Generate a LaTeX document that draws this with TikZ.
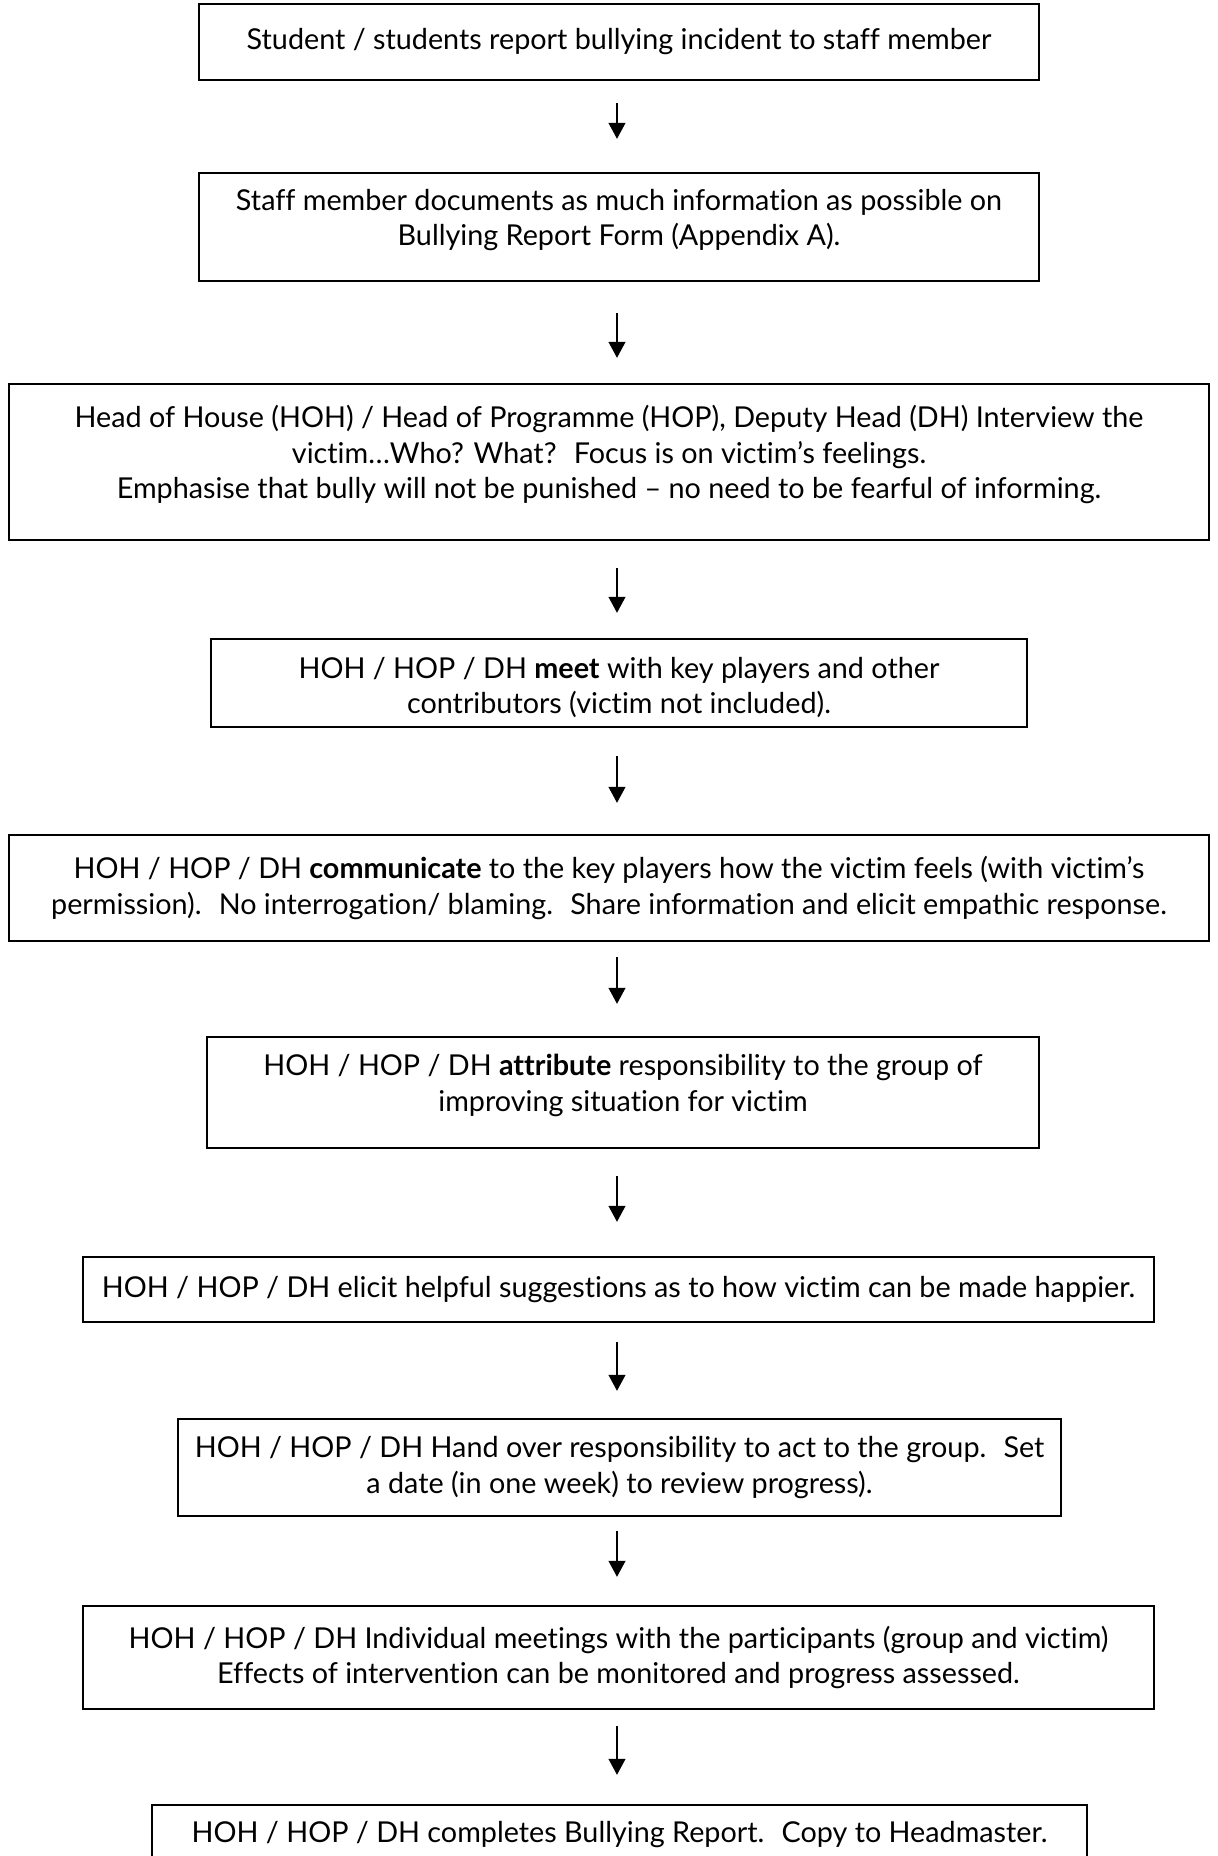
\documentclass[tikz,border=0pt]{standalone}
\usepackage{fontspec}
\setmainfont{Lato}[Ligatures=NoCommon]
\usetikzlibrary{arrows.meta}
\newcommand\lowpad{\rule[-7.8pt]{0pt}{1pt}}
\newcommand\toppad{\rule{0pt}{12pt}}

\begin{document}
\begin{tikzpicture}[x=0.4pt, y=-0.4pt,
    every node/.style={draw, line width=0.9pt, inner sep=0pt, align=center,
      font=\fontsize{11.5}{14.2}\selectfont},
    step arrow/.style={line width=1pt, -{Triangle[width=6.6pt, length=6.4pt]}}]
                \useasboundingbox (0,0) rectangle (1218,1856);
                \coordinate (ax) at (617,0);
                \node[minimum width=336pt, minimum height=30.4pt] (n1) at (619,42)
                    {Student / students report bullying incident to staff member};
                \node[minimum width=336pt, minimum height=43.2pt] (n2) at (619,227)
                    {Staff member documents as much information as possible on\\
                     Bullying Report Form (Appendix A).\lowpad};
                \node[minimum width=480pt, minimum height=62.4pt] (n3) at (609,462)
                    {Head of House (HOH) / Head of Programme (HOP), Deputy Head (DH) Interview the\\
                     victim…Who? What?~ Focus is on victim’s feelings.\\
                     Emphasise that bully will not be punished – no need to be fearful of informing.\lowpad};
                \node[minimum width=326.4pt, minimum height=35.2pt] (n4) at (619,683)
                    {\toppad HOH / HOP / DH \textbf{meet} with key players and other\\
                     contributors (victim not included).};
                \node[minimum width=480pt, minimum height=42.4pt] (n5) at (609,888)
                    {HOH / HOP / DH \textbf{communicate} to the key players how the victim feels (with victim’s\\
                     permission).~ No interrogation/ blaming.~ Share information and elicit empathic response.};
                \node[minimum width=332.8pt, minimum height=44.4pt] (n6) at (623,1092.5)
                    {HOH / HOP / DH \textbf{attribute} responsibility to the group of\\
                     improving situation for victim\lowpad};
                \node[minimum width=428.4pt, minimum height=26pt] (n7) at (618.5,1289.5)
                    {HOH / HOP / DH elicit helpful suggestions as to how victim can be made happier.};
                \node[minimum width=353.2pt, minimum height=38.8pt] (n8) at (619.5,1467.5)
                    {HOH / HOP / DH Hand over responsibility to act to the group.~ Set\\
                     a date (in one week) to review progress).};
                \node[minimum width=428.4pt, minimum height=41.2pt] (n9) at (618.5,1657.5)
                    {HOH / HOP / DH Individual meetings with the participants (group and victim)\\
                     Effects of intervention can be monitored and progress assessed.};
                \node[minimum width=374pt, minimum height=24pt] (n10) at (619.5,1835)
                    {HOH / HOP / DH completes Bullying Report.~ Copy to Headmaster.};
                \draw[step arrow, shorten <=8.8pt, shorten >=13.2pt] (n1.south -| ax) -- (n2.north -| ax);
                \draw[step arrow, shorten <=12.4pt, shorten >=10pt] (n2.south -| ax) -- (n3.north -| ax);
                \draw[step arrow, shorten <=10.8pt, shorten >=10pt] (n3.south -| ax) -- (n4.north -| ax);
                \draw[step arrow, shorten <=11.2pt, shorten >=12.4pt] (n4.south -| ax) -- (n5.north -| ax);
                \draw[step arrow, shorten <=6pt, shorten >=12.8pt] (n5.south -| ax) -- (n6.north -| ax);
                \draw[step arrow, shorten <=10.8pt, shorten >=13.6pt] (n6.south -| ax) -- (n7.north -| ax);
                \draw[step arrow, shorten <=7.6pt, shorten >=10.8pt] (n7.south -| ax) -- (n8.north -| ax);
                \draw[step arrow, shorten <=5.6pt, shorten >=11.2pt] (n8.south -| ax) -- (n9.north -| ax);
                \draw[step arrow, shorten <=6.4pt, shorten >=11.6pt] (n9.south -| ax) -- (n10.north -| ax);
            \end{tikzpicture}
\end{document}
